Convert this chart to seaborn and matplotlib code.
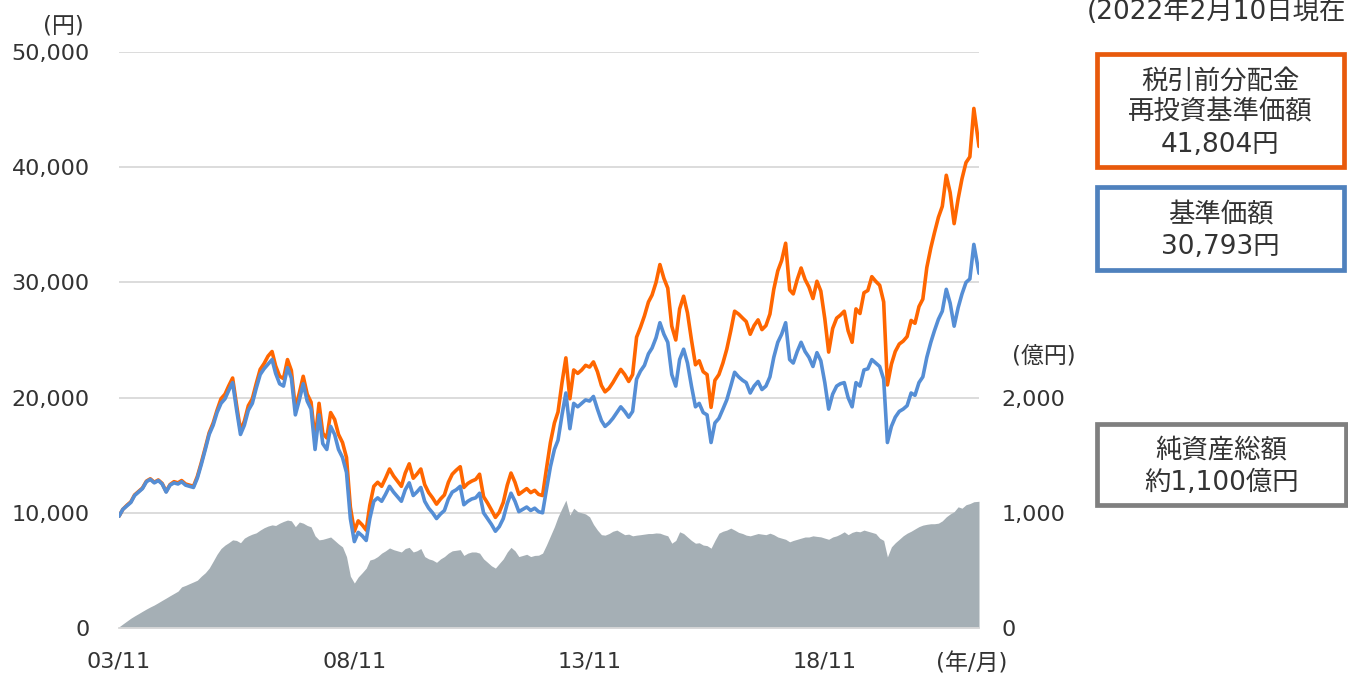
import matplotlib
matplotlib.use("Agg")
import matplotlib.pyplot as plt
import matplotlib.ticker as mticker
from matplotlib.patches import Rectangle
import pandas as pd
import seaborn as sns

# ---------------- data (monthly) ----------------
base_price = [
    9700, 10300,
    10600, 10900, 11500, 11800, 12100, 12700, 12900, 12600, 12800, 12500, 11800, 12400,
    12600, 12500, 12700, 12400, 12300, 12200, 13000, 14200, 15500, 16800, 17600, 18700,
    19500, 19900, 20600, 21300, 19000, 16800, 17600, 18900, 19500, 20800, 22000, 22500,
    22900, 23300, 22100, 21200, 21000, 22600, 21700, 18500, 19800, 21200, 19700, 19000,
    15500, 18500, 16000, 15500, 17500, 16800, 15500, 14800, 13500, 9500, 7500, 8300,
    8000, 7600, 9500, 11000, 11300, 11000, 11600, 12300, 11800, 11400, 11000, 12000,
    12600, 11500, 11800, 12200, 11000, 10400, 10000, 9500, 9900, 10200, 11200, 11800,
    12000, 12300, 10700, 11000, 11200, 11300, 11700, 10000, 9500, 9000, 8400, 8800,
    9500, 10800, 11700, 11000, 10100, 10300, 10500, 10200, 10400, 10100, 10000, 12000,
    14000, 15500, 16300, 18500, 20400, 17300, 19500, 19200, 19500, 19800, 19700, 20100,
    19000, 18000, 17500, 17800, 18200, 18700, 19200, 18800, 18300, 18800, 21600, 22300,
    22800, 23800, 24300, 25200, 26500, 25500, 24800, 22000, 21000, 23300, 24200, 23000,
    21000, 19200, 19500, 18700, 18500, 16100, 17800, 18200, 19000, 19800, 21000, 22200,
    21800, 21500, 21300, 20400, 21000, 21400, 20700, 21000, 21800, 23500, 24800, 25500,
    26500, 23300, 23000, 24000, 24800, 24000, 23500, 22700, 23900, 23200, 21300, 19000,
    20300, 21000, 21200, 21300, 20000, 19200, 21300, 21000, 22400, 22500, 23300, 23000,
    22700, 21600, 16100, 17500, 18300, 18800, 19000, 19300, 20400, 20200, 21300, 21800,
    23500, 24800, 25800, 26800, 27500, 29400, 28200, 26200, 27800, 29000, 30000, 30300,
    33300, 30793,
]

reinvest_price = [
    9700, 10300,
    10650, 10950, 11550, 11850, 12150, 12750, 12950, 12650, 12850, 12550, 11850, 12450,
    12700, 12600, 12800, 12500, 12400, 12300, 13150, 14350, 15650, 16950, 17800, 18900,
    19900, 20300, 21000, 21700, 19400, 17150, 17950, 19300, 19900, 21200, 22450, 22950,
    23600, 24000, 22750, 21850, 21650, 23300, 22350, 19050, 20400, 21850, 20300, 19600,
    16300, 19500, 16900, 16500, 18700, 18100, 16800, 16100, 14800, 10500, 8400, 9300,
    8950, 8500, 10650, 12300, 12650, 12300, 13000, 13800, 13200, 12750, 12300, 13450,
    14250, 13000, 13350, 13800, 12450, 11750, 11300, 10750, 11200, 11550, 12650, 13350,
    13700, 14000, 12200, 12550, 12750, 12900, 13350, 11400, 10850, 10250, 9600, 10050,
    10900, 12400, 13450, 12650, 11600, 11850, 12100, 11750, 11950, 11600, 11500, 13800,
    16100, 17800, 18750, 21300, 23450, 19900, 22400, 22100, 22400, 22800, 22650, 23100,
    22250, 21050, 20500, 20800, 21300, 21900, 22450, 22000, 21400, 22000, 25250, 26100,
    27100, 28300, 28900, 30000, 31550, 30350, 29500, 26200, 25000, 27700, 28800, 27350,
    25000, 22850, 23200, 22250, 22000, 19150, 21500, 22000, 23000, 24200, 25800, 27500,
    27250, 26900, 26600, 25500, 26250, 26750, 25900, 26250, 27250, 29400, 31000, 31900,
    33400, 29350, 29000, 30250, 31250, 30250, 29600, 28600, 30100, 29250, 26850, 23950,
    26000, 26900, 27150, 27500, 25800, 24800, 27700, 27300, 29100, 29300, 30500, 30100,
    29750, 28300, 21100, 22900, 24000, 24650, 24900, 25300, 26700, 26450, 27900, 28550,
    31300, 33000, 34300, 35650, 36600, 39300, 37800, 35100, 37250, 39000, 40400, 40900,
    45100, 41804,
]

net_assets = [
    10, 35,
    60, 85, 105, 125, 145, 165, 183, 200, 220, 240, 260, 280,
    300, 320, 357, 370, 385, 400, 415, 450, 480, 520, 580, 640,
    690, 720, 740, 765, 760, 740, 780, 800, 815, 826, 850, 870,
    885, 895, 890, 910, 925, 937, 930, 880, 920, 910, 890, 878,
    800, 765, 770, 780, 790, 760, 730, 704, 620, 450, 390, 443,
    480, 520, 590, 600, 620, 650, 670, 695, 680, 670, 660, 690,
    700, 660, 670, 690, 620, 600, 590, 570, 600, 620, 650, 670,
    675, 680, 630, 650, 660, 660, 650, 600, 570, 540, 520, 560,
    600, 660, 700, 670, 620, 630, 640, 620, 630, 632, 650, 720,
    800, 880, 965, 1040, 1110, 980, 1040, 1010, 1000, 990, 965, 900,
    850, 810, 806, 820, 840, 850, 830, 810, 815, 800, 806, 810,
    815, 820, 820, 825, 823, 810, 800, 736, 760, 835, 820, 790,
    760, 736, 740, 720, 715, 693, 760, 823, 840, 850, 867, 850,
    830, 820, 806, 800, 810, 820, 815, 810, 823, 810, 790, 780,
    770, 748, 760, 770, 780, 790, 790, 800, 795, 791, 780, 770,
    790, 800, 815, 835, 810, 830, 840, 835, 850, 840, 830, 820,
    780, 760, 617, 704, 740, 770, 800, 823, 840, 860, 880, 893,
    900, 905, 905, 910, 930, 965, 990, 1010, 1052, 1040, 1070, 1080,
    1096, 1100,
]

first_month = "2003-11-01"
last_date = "2022-02-10"
x_tick_dates = ["2003-11-01", "2008-11-01", "2013-11-01", "2018-11-01"]
x_tick_labels = ["03/11", "08/11", "13/11", "18/11"]
left_ticks = [0, 10000, 20000, 30000, 40000, 50000]
right_ticks = [0, 1000, 2000, 3000, 4000, 5000]
right_labels = ["0", "1,000", "2,000", "", "", ""]

dates = list(pd.date_range(first_month, periods=len(base_price) - 1, freq="MS")) + [pd.Timestamp(last_date)]
df = pd.DataFrame({"date": dates, "base": base_price,
                   "reinvest": reinvest_price, "assets": net_assets})

# ---------------- style ----------------
sns.set_theme(style="white")
plt.rcParams["font.family"] = ["DejaVu Sans", "Noto Sans CJK JP"]
TXT = "#333333"
ORANGE = "#FF6600"
BLUE = "#558ED5"
AREA = "#A5AFB5"
GRID = "#D9D9D9"

W, H = 1348, 674
fig = plt.figure(figsize=(W / 100, H / 100), dpi=100, facecolor="white")
ax = fig.add_axes([119 / W, 1 - 628 / H, (979 - 119) / W, (628 - 52) / H])
ax2 = ax.twinx()
ax.set_zorder(2)
ax2.set_zorder(1)
ax.patch.set_visible(False)

# net assets area (right axis)
ax2.fill_between(df["date"], df["assets"], 0, color=AREA, lw=0, zorder=2)
ax2.set_ylim(0, 5000)
ax2.set_yticks(right_ticks)
ax2.set_yticklabels(right_labels)
ax2.yaxis.grid(True, color=GRID, lw=1.3)
ax2.set_axisbelow(True)
ax2.tick_params(axis="y", length=0, pad=16, labelsize=16, labelcolor=TXT)
for s in ax2.spines.values():
    s.set_visible(False)

# price lines (left axis)
sns.lineplot(data=df, x="date", y="reinvest", ax=ax, color=ORANGE, lw=2.6)
sns.lineplot(data=df, x="date", y="base", ax=ax, color=BLUE, lw=2.6)
ax.set_ylim(0, 50000)
ax.set_xlim(df["date"].iloc[0], df["date"].iloc[-1])
ax.set_yticks(left_ticks)
ax.yaxis.set_major_formatter(mticker.FuncFormatter(lambda v, p: f"{int(v):,}"))
ax.tick_params(axis="y", length=0, pad=21, labelsize=16, labelcolor=TXT)
ax.set_xticks([pd.Timestamp(d) for d in x_tick_dates])
ax.set_xticklabels(x_tick_labels)
ax.tick_params(axis="x", direction="in", length=7, width=1.2, color=GRID,
               pad=17, labelsize=16, labelcolor=TXT)
ax.set_xlabel("")
ax.set_ylabel("")
ax2.set_ylabel("")
for name, s in ax.spines.items():
    s.set_visible(name == "bottom")
ax.spines["bottom"].set_color(GRID)
ax.spines["bottom"].set_linewidth(1.3)

# axis unit labels
fig.text(63 / W, 1 - 26 / H, "(円)", ha="center", va="center", fontsize=16.5, color=TXT)
fig.text(1044 / W, 1 - 356 / H, "(億円)", ha="center", va="center", fontsize=16.5, color=TXT)
fig.text(972 / W, 1 - 664 / H, "(年/月)", ha="center", va="center", fontsize=16.5, color=TXT)

# date note (the reference shows it running to the right edge)
fig.text(1346 / W, 1 - 12 / H, "(2022年2月10日現在", ha="right", va="center", fontsize=19, color=TXT)

# boxes
def box(x0, y0, x1, y1, color, lines, ys):
    fig.add_artist(Rectangle((x0 / W, 1 - y1 / H), (x1 - x0) / W, (y1 - y0) / H,
                             transform=fig.transFigure, fill=False, lw=3.4,
                             edgecolor=color))
    cx = (x0 + x1) / 2
    for t, y in zip(lines, ys):
        fig.text(cx / W, 1 - y / H, t, ha="center", va="center", fontsize=19, color=TXT)

box(1097, 54, 1344, 167, "#E85A0C", ["税引前分配金", "再投資基準価額", "41,804円"], [82, 113, 145])
box(1097, 187, 1344, 270, "#4F81BD", ["基準価額", "30,793円"], [215, 247])
box(1097, 424, 1346, 505, "#7F7F7F", ["純資産総額", "約1,100億円"], [450, 483])

fig.savefig("out.png", dpi=100, facecolor="white")
